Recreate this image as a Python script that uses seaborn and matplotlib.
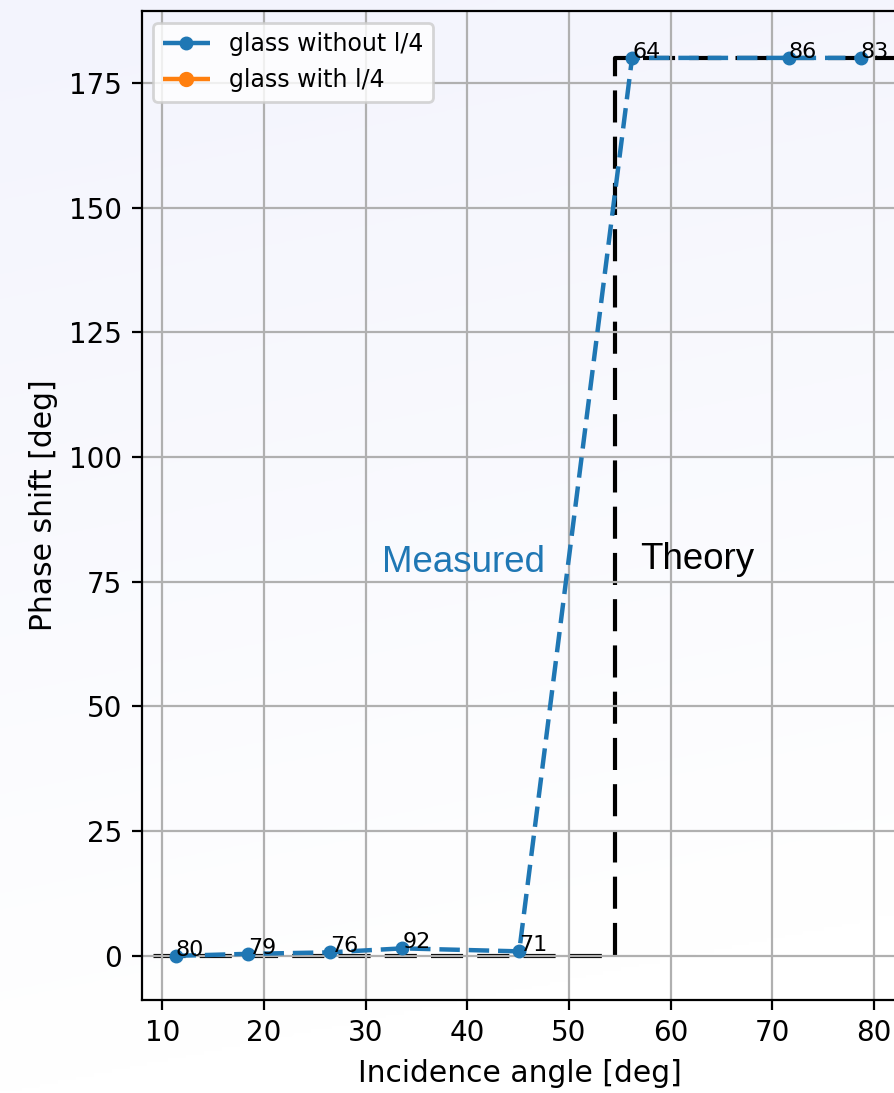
import numpy as np
import matplotlib
matplotlib.use("Agg")
import matplotlib.pyplot as plt
import seaborn as sns

# Data
angles = [11.3, 18.4, 26.5, 33.6, 45.1, 56.2, 71.6, 78.7]
shifts = [0.0, 0.4, 0.7, 1.5, 0.9, 180.0, 180.0, 180.0]
point_labels = ["80", "79", "76", "92", "71", "64", "86", "83"]
theory_x = [0.0, 54.5, 54.5, 100.0]
theory_y = [0.0, 0.0, 180.0, 180.0]
xticks = [10, 20, 30, 40, 50, 60, 70, 80]
yticks = [0, 25, 50, 75, 100, 125, 150, 175]

W, H, DPI = 894, 1093, 200
fig = plt.figure(figsize=(W / DPI, H / DPI), dpi=DPI)

# gradient background
bg = fig.add_axes([0, 0, 1, 1], zorder=-10)
yy, xx = np.mgrid[0:1:300j, 0:1:300j]
t = np.clip((yy + 0.2 * xx * W / H) / 1.0, 0, 1)
top = np.array([243, 244, 253]) / 255.0
bot = np.array([255, 255, 255]) / 255.0
img = top[None, None, :] * (1 - t[..., None]) + bot[None, None, :] * t[..., None]
bg.imshow(img, extent=[0, 1, 0, 1], aspect="auto", origin="upper")
bg.set_axis_off()

xlim = (7.95, 82.3)
pxu = 10.167
left = 141.5 / W
width = (xlim[1] - xlim[0]) * pxu / W
bottom = (H - 1000) / H
height = (1000 - 11) / H
ax = fig.add_axes([left, bottom, width, height])
ax.set_facecolor("none")

blue = "#1f77b4"
orange = "#ff7f0e"

sns.lineplot(x=theory_x, y=theory_y, sort=False, estimator=None, color="black",
             linewidth=1.5, linestyle=(0, (7.7, 3.4)), zorder=1, ax=ax)
sns.lineplot(x=angles, y=shifts, marker="o", linestyle=(0, (4.6, 2.0)), color=blue,
             markersize=4.5, markeredgecolor=blue, markeredgewidth=0.5,
             linewidth=1.6, label="glass without l/4", ax=ax, zorder=3)
ax.plot([], [], marker="o", linestyle=(0, (4.6, 2.0)), color=orange, markersize=4.5,
        linewidth=1.6, label="glass with l/4")

for x, y, s in zip(angles, shifts, point_labels):
    ax.text(x, y, s, fontsize=8)

ax.text(31.6, 77.0, "Measured", color=blue, fontsize=13.2, family="Liberation Sans")
ax.text(57.0, 77.5, "Theory", color="black", fontsize=13.2, family="Liberation Sans")

ax.set_xticks(xticks)
ax.set_yticks(yticks)
ax.set_xlim(*xlim)
ax.set_ylim(-8.85, 189.4)
ax.grid(True)
ax.set_xlabel("Incidence angle [deg]", fontsize=10.7)
ax.set_ylabel("Phase shift [deg]", fontsize=10.7)
ax.legend(loc="upper left", fontsize=8.5)

fig.savefig("out.png", dpi=DPI)
